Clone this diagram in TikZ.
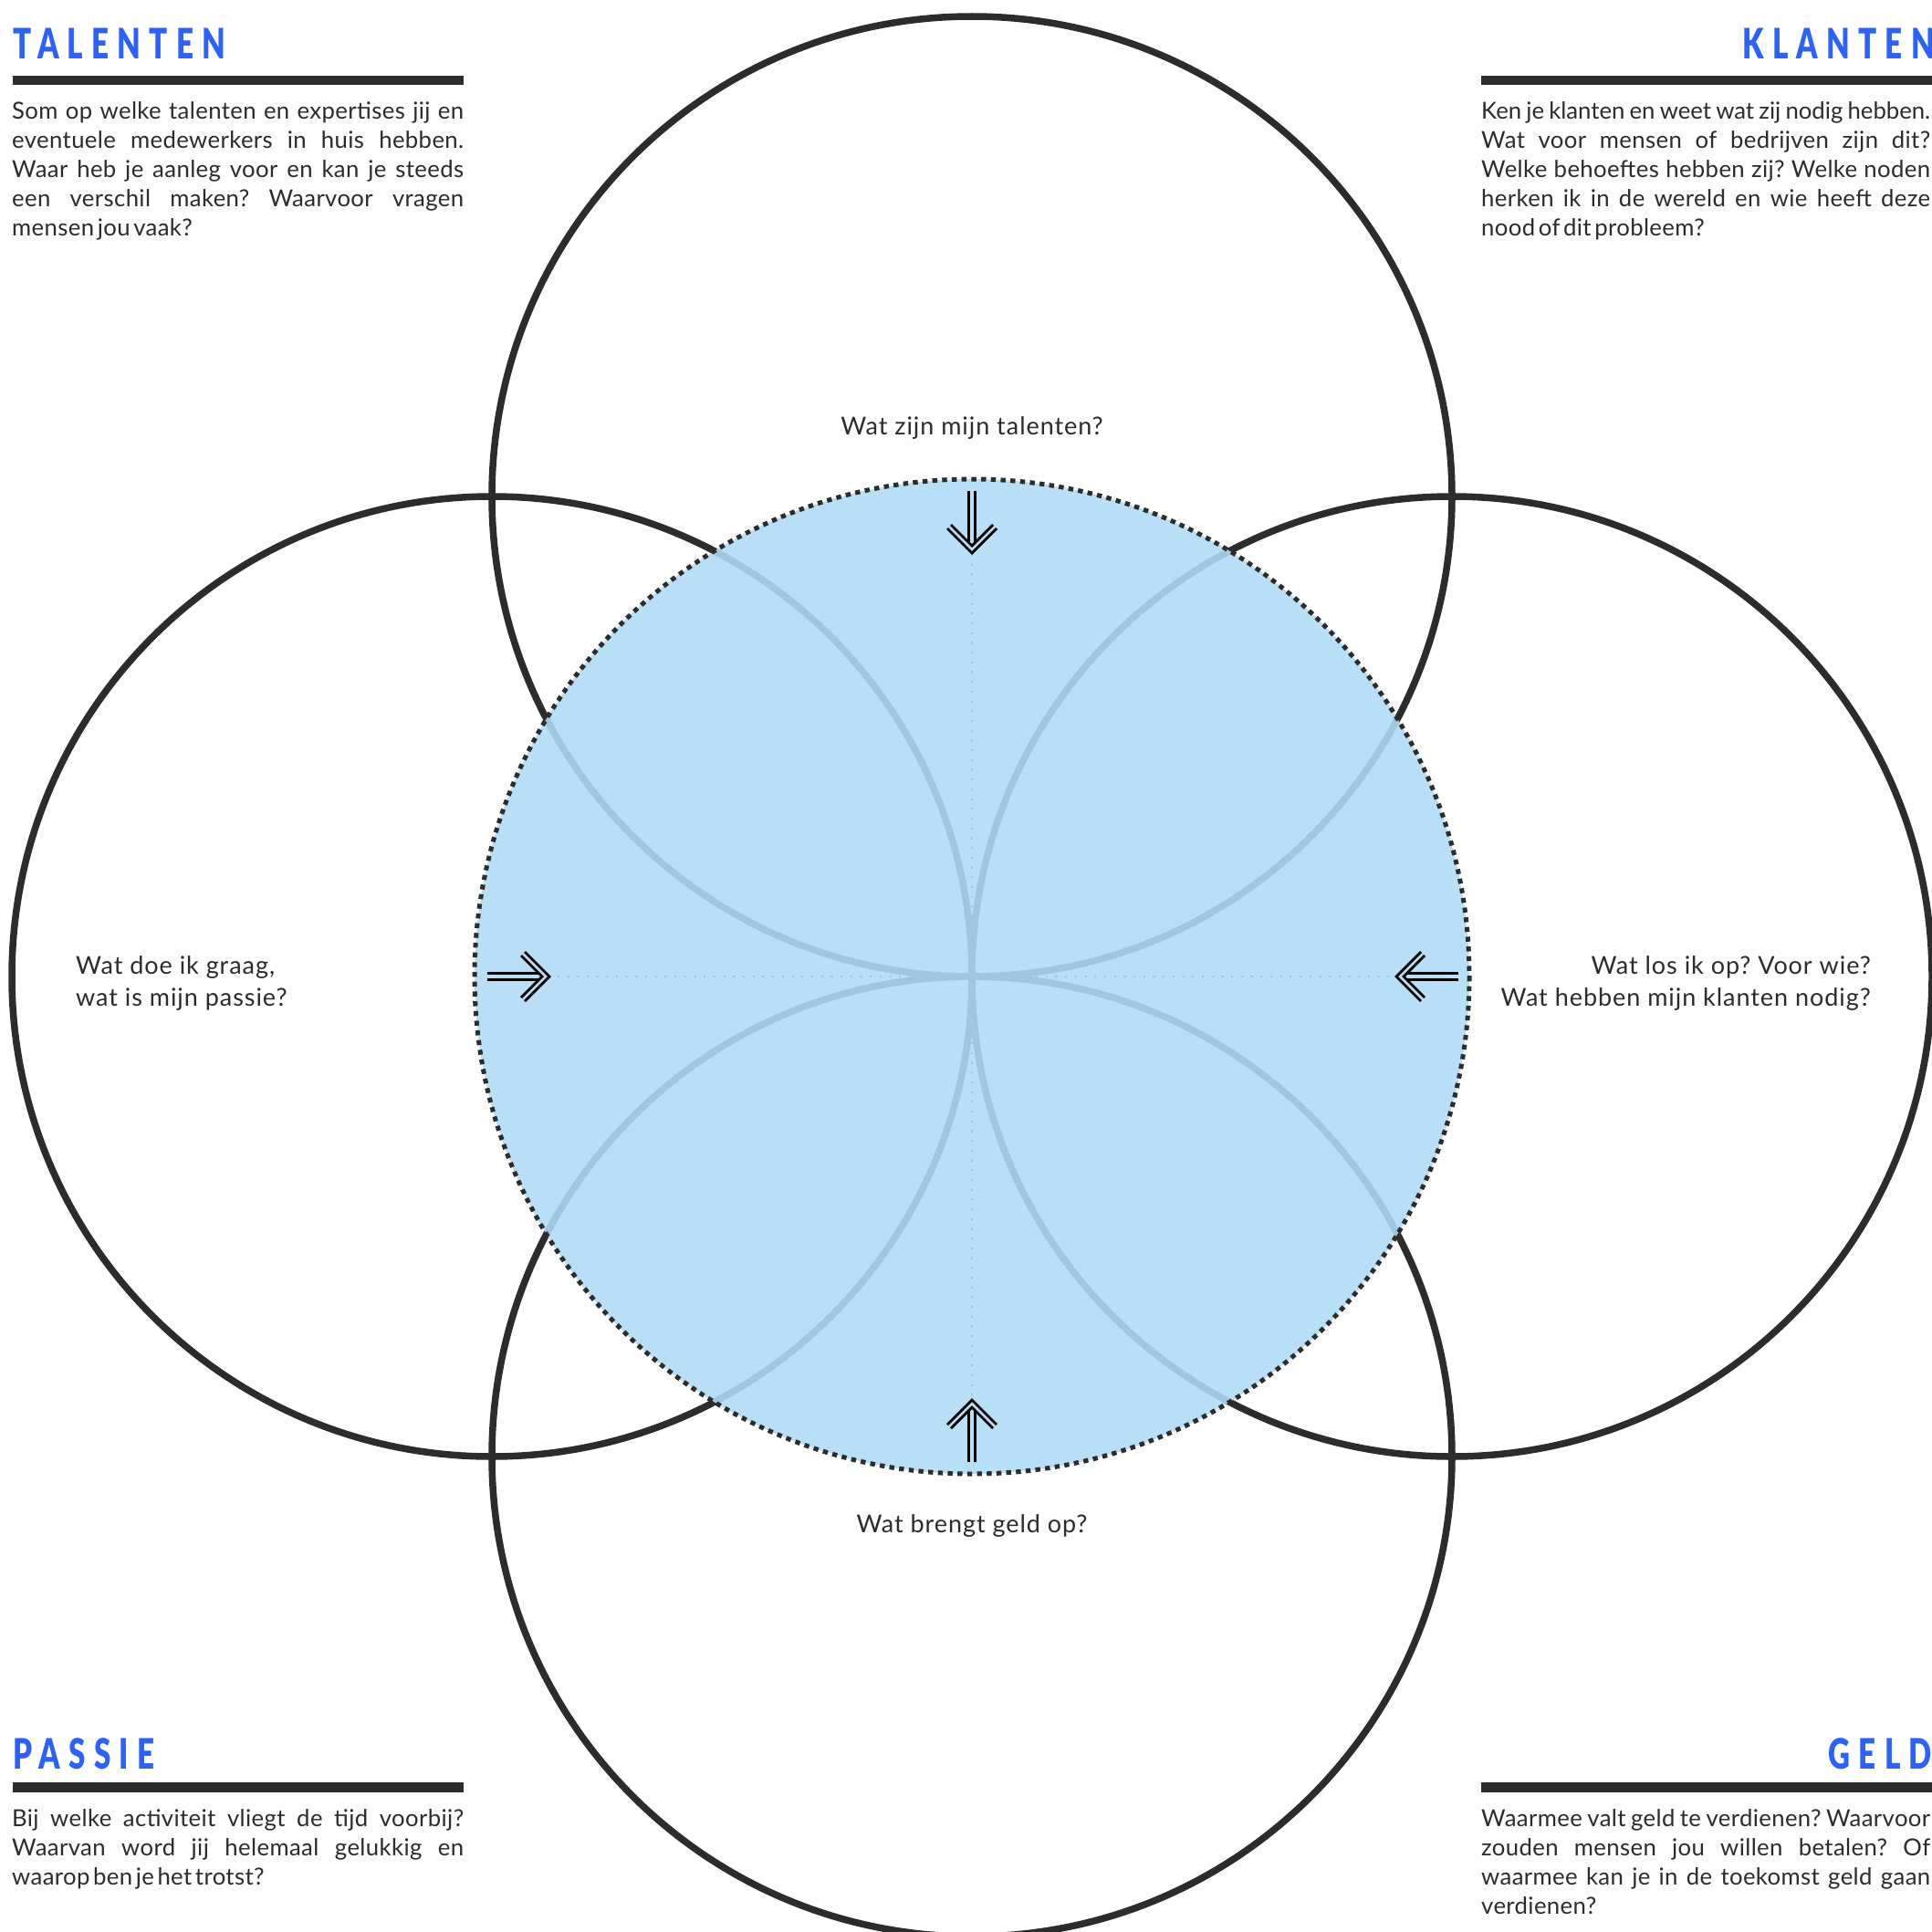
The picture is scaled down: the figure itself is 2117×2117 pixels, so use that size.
\documentclass[tikz,border=0pt]{standalone}
\usepackage{fontspec}
\setmainfont{Lato}
\newfontfamily\headfont[FakeStretch=0.72,LetterSpace=20]{Lato Black}
\newfontfamily\bodyfont[LetterSpace=1.5]{Lato}
\newfontfamily\tightfont[LetterSpace=0]{Lato}
\newfontfamily\qfont[LetterSpace=3.5]{Lato}
\definecolor{ink}{HTML}{2D2C2C}
\definecolor{txt}{HTML}{2B2B2B}
\definecolor{hblue}{HTML}{2E62F5}
\definecolor{core}{RGB}{175,219,244}
\tikzset{
  bigcirc/.style={draw=ink, line width=7.5pt},
  corefill/.style={fill=core, fill opacity=0.886},
  coreedge/.style={draw=ink, line width=5pt, dash pattern=on 5.4pt off 5.3pt},
  axisdots/.style={draw=ink, line width=2.2pt, dash pattern=on 2.2pt off 8.5pt},
  headline/.style={font={\headfont\fontsize{46}{50}\selectfont}, text=hblue, inner sep=0pt},
  hbar/.style={draw=ink, line width=10.5pt},
  bodytext/.style={font={\bodyfont\fontsize{25.7}{32}\selectfont\frenchspacing\spaceskip=0.26em plus 0.6em minus 0.22em\relax}, text=txt, align=justify, inner sep=0pt},
  qlabel/.style={font={\qfont\fontsize{27}{35}\selectfont\frenchspacing}, text=txt, inner sep=0pt},
  dblarrow/.pic={
    \draw[line width=2.8pt, draw=black, line cap=butt] (0,3.8) -- (57,3.8) (0,-3.8) -- (57,-3.8);
    \draw[line width=2.8pt, draw=black, line cap=butt, line join=miter] (41,27) -- (68,0) -- (41,-27);
    \draw[line width=2.8pt, draw=black, line cap=butt, line join=miter] (37,23) -- (60,0) -- (37,-23);
  }
}
\begin{document}
\begin{tikzpicture}[x=1pt, y=-1pt]
\useasboundingbox (0,0) rectangle (2117,2117);
% key points
\coordinate (C) at (1065,1070);
\coordinate (Ttip) at (1065,607);
\coordinate (Btip) at (1065,1535);
\coordinate (Ltip) at (600,1070);
\coordinate (Rtip) at (1530,1070);
% faint axis lines (under the core fill)
\draw[axisdots] (Ttip) -- (C) -- (Btip);
\draw[axisdots] (Ltip) -- (C) -- (Rtip);
% four big circles
\draw[bigcirc] (1065,544) circle[radius=526];
\draw[bigcirc] (539,1070) circle[radius=526];
\draw[bigcirc] (1591,1070) circle[radius=526];
\draw[bigcirc] (1065,1596) circle[radius=526];
% central core
\path[corefill] (C) circle[radius=545];
\draw[coreedge] (C) circle[radius=545];
% arrows
\pic[rotate=-90] at (1065,538) {dblarrow};
\pic[rotate=90] at (1065,1602) {dblarrow};
\pic at (534,1070) {dblarrow};
\pic[rotate=180] at (1598,1070) {dblarrow};
% question labels
\node[qlabel, anchor=base] (qtop) at (1065,476) {Wat zijn mijn talenten?};
\node[qlabel, anchor=base] (qbot) at (1065,1679) {Wat brengt geld op?};
\node[qlabel, align=left, anchor=base west] (qleft) at (83,1102) {Wat doe ik graag,\\wat is mijn passie?};
\node[qlabel, align=right, anchor=base east] (qright) at (2050,1102) {Wat los ik op? Voor wie?\\Wat hebben mijn klanten nodig?};
% corner headers
\node[headline, anchor=base west] (hT) at (14,65) {TALENTEN};
\node[headline, anchor=base east] (hK) at (2120,65) {KLANTEN};
\node[headline, anchor=base west] (hP) at (14,1938) {PASSIE};
\node[headline, anchor=base east] (hG) at (2117,1938) {GELD};
% bars
\draw[hbar] (14,88) -- (508,88);
\draw[hbar] (1623,88) -- (2117,88);
\draw[hbar] (14,1958.5) -- (508,1958.5);
\draw[hbar] (1623,1958.5) -- (2117,1958.5);
% body texts
\node[bodytext, text width=495pt, anchor=base west] (tT) at (13,130.5) {Som op welke talenten en expertises jij en\linebreak eventuele medewerkers in huis hebben.\linebreak Waar heb je aanleg voor en kan je steeds\linebreak een verschil maken? Waarvoor vragen\linebreak {\spaceskip=0.14em\relax mensen jou vaak?}};
\node[bodytext, text width=492pt, anchor=base west] (tK) at (1623,130.5) {{\tightfont\spaceskip=0.05em plus 0.5em\relax Ken je klanten en weet wat zij nodig hebben.}\linebreak Wat voor mensen of bedrijven zijn dit?\linebreak Welke behoeftes hebben zij? Welke noden\linebreak herken ik in de wereld en wie heeft deze\linebreak {\spaceskip=0.14em\relax nood of dit probleem?}};
\node[bodytext, text width=495pt, anchor=base west] (tP) at (13,2001) {Bij welke activiteit vliegt de tijd voorbij?\linebreak Waarvan word jij helemaal gelukkig en\linebreak {\spaceskip=0.14em\relax waarop ben je het trotst?}};
\node[bodytext, text width=492pt, anchor=base west] (tG) at (1623,2001) {{\spaceskip=0.1em plus 0.5em\relax Waarmee valt geld te verdienen? Waarvoor}\linebreak zouden mensen jou willen betalen? Of\linebreak waarmee kan je in de toekomst geld gaan\linebreak verdienen?};
\end{tikzpicture}
\end{document}
